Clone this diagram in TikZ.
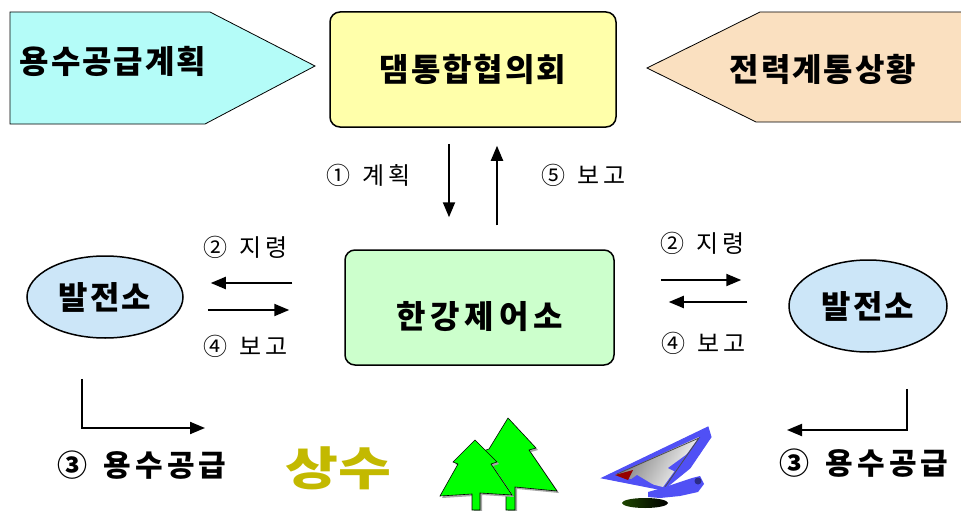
\documentclass[tikz,border=0pt]{standalone}
\usepackage{fontspec}
\setmainfont{Noto Sans CJK KR}
\newfontfamily\hangul{Noto Sans CJK KR}
\usepackage{tikz}
\usetikzlibrary{arrows.meta, calc, shapes.geometric, shadows}
\definecolor{plancyan}{RGB}{180, 252, 248}
\definecolor{gridwheat}{RGB}{250, 224, 192}
\definecolor{councilyellow}{RGB}{255, 255, 170}
\definecolor{ctrlgreen}{RGB}{204, 255, 204}
\definecolor{plantblue}{RGB}{204, 230, 248}
\definecolor{treegreen}{RGB}{0, 255, 0}
\definecolor{goldtext}{RGB}{195, 185, 0}
\definecolor{sailblue}{RGB}{80, 80, 245}
\definecolor{sailred}{RGB}{150, 0, 0}
\definecolor{boardshadow}{RGB}{30, 70, 0}

\begin{document}
\begin{tikzpicture}[
    x=1pt, y=-1pt,
    >={Triangle[length=15pt, width=12pt]},
    head_text/.style={font=\hangul\addfontfeature{LetterSpace=6}\bfseries\fontsize{32}{32}\selectfont},
    council/.style={
        rectangle, rounded corners=10pt, draw=black, fill=councilyellow, line width=1.5pt,
        minimum width=286pt, minimum height=115pt, head_text
    },
    controller/.style={
        rectangle, rounded corners=10pt, draw=black, fill=ctrlgreen, line width=1.5pt,
        minimum width=269pt, minimum height=115pt, text height=46pt, text depth=4pt,
        font=\hangul\addfontfeature{LetterSpace=15}\bfseries\fontsize{32}{32}\selectfont
    },
    plant/.style={
        ellipse, draw=black, fill=plantblue, line width=1.5pt, inner sep=0pt, head_text
    },
    banner/.style={draw=black, line width=0.8pt},
    flow/.style={draw=black, line width=2pt, ->},
    step_label/.style={font=\hangul\fontsize{24}{24}\selectfont},
    supply_label/.style={font=\hangul\addfontfeature{LetterSpace=14}\bfseries\fontsize{30}{30}\selectfont},
    tree/.style={draw=black, line width=0.6pt, fill=treegreen,
        drop shadow={shadow xshift=2pt, shadow yshift=-2pt, fill=gray!70, opacity=1}}
]
    \useasboundingbox (0,0) rectangle (961,511);

    % Top row: plan and grid banners around the council
    \path[banner, fill=plancyan] (10,12) -- (210,12) -- (315,66) -- (205,124) -- (10,124) -- cycle;
    \node[head_text] (supply_plan) at (113,61) {용수공급계획};

    \path[banner, fill=gridwheat] (1000,12) -- (760,12) -- (647,68) -- (756,122) -- (1000,122) -- cycle;
    \node[head_text] (grid_state) at (823,69) {전력계통상황};

    \node[council] (council) at (473,69.5) {댐통합협의회};

    % Middle row: control office and the two power plants
    \node[controller] (ctrl) at (479.5,307.5) {한강제어소};
    \node[plant, minimum width=156pt, minimum height=82pt] (plant_l) at (105,297) {발전소};
    \node[plant, minimum width=158pt, minimum height=92pt] (plant_r) at (868,306) {발전소};

    % Council <-> control office
    \draw[flow] ($(council.south)+(-24,16)$) -- ($(ctrl.north)+(-30.5,-32)$);
    \draw[flow] ($(ctrl.north)+(17.5,-24)$) -- ($(council.south)+(24,18)$);
    \node[step_label] (plan_lbl) at (369,175) {①\hspace{12pt}계\hspace{4pt}획};
    \node[step_label] (report5_lbl) at (584,175) {⑤\hspace{12pt}보\hspace{4pt}고};

    % Control office <-> left plant
    \draw[flow] ($(ctrl.west)+(-52,-24.5)$) -- ($(plant_l.east)+(27,-14)$);
    \draw[flow] ($(plant_l.east)+(24,13)$) -- ($(ctrl.west)+(-55,2.5)$);
    \node[step_label] (order_l) at (246,247) {②\hspace{12pt}지\hspace{4pt}령};
    \node[step_label] (report_l) at (246,346) {④\hspace{12pt}보\hspace{4pt}고};

    % Control office <-> right plant
    \draw[flow] ($(ctrl.east)+(46,-27.5)$) -- ($(plant_r.west)+(-47,-26)$);
    \draw[flow] ($(plant_r.west)+(-41,-4)$) -- ($(ctrl.east)+(54,-5.5)$);
    \node[step_label] (order_r) at (703,243) {②\hspace{12pt}지\hspace{4pt}령};
    \node[step_label] (report_r) at (704,343) {④\hspace{12pt}보\hspace{4pt}고};

    % Water supply from the plants
    \coordinate (supply_l_end) at (205,428);
    \coordinate (supply_r_end) at (787,430);
    \draw[flow] ($(plant_l.south)+(-23,40)$) |- (supply_l_end);
    \draw[flow] ($(plant_r.south)+(39,36)$) |- (supply_r_end);
    \node[supply_label] (supply_l) at (142,465) {③\hspace{16pt}용수공급};
    \node[supply_label] (supply_r) at (864,463) {③\hspace{16pt}용수공급};

    % Bottom pictures: water use, forest, leisure
    \node[font=\bfseries\fontsize{46}{46}\selectfont, text=goldtext, xscale=1.25] (sangsu) at (338,468) {상수};

    \path[tree] (508,418) -- (536,448) -- (529,450) -- (557,491) -- (515,487) -- (515,510)
        -- (506,510) -- (506,488) -- (492,486) -- (483,451) -- (489,449) -- cycle;
    \path[tree] (475,440) -- (497,462) -- (491,464) -- (512,495) -- (480,493) -- (480,510)
        -- (472,510) -- (472,494) -- (440,496) -- (458,464) -- (453,462) -- cycle;

    % windsurfer
    \path[left color=boardshadow, right color=black] (645,503) ellipse (23 and 5);
    \path[fill=sailblue, draw=sailblue, line width=1pt]
        (602,478) -- (708,427) -- (711,437) -- (690,468) -- (663,490) -- cycle;
    \path[left color=gray!90!black, right color=white, shading angle=60]
        (615,475) -- (699,437) -- (663,487) -- cycle;
    \fill[sailblue] (668,468) -- (690,452) -- (682,462) -- (694,458) -- (676,472) -- cycle;
    \fill[sailred] (615,475) -- (633,470) -- (628,480) -- cycle;
    \fill[sailblue] (630,480) -- (637,475) -- (657,487) -- cycle;
    \draw[gray!60!black, line width=0.8pt] (617,474) -- (699,438) -- (665,487);
    \fill[sailblue] (648,492) -- (662,488) -- (680,482) -- (692,478) -- (700,476)
        -- (704,484) -- (698,492) -- (680,496) -- (660,498) -- (648,497) -- cycle;
    \fill[sailblue!55!black] (698,481) circle (3.5);

\end{tikzpicture}
\end{document}
